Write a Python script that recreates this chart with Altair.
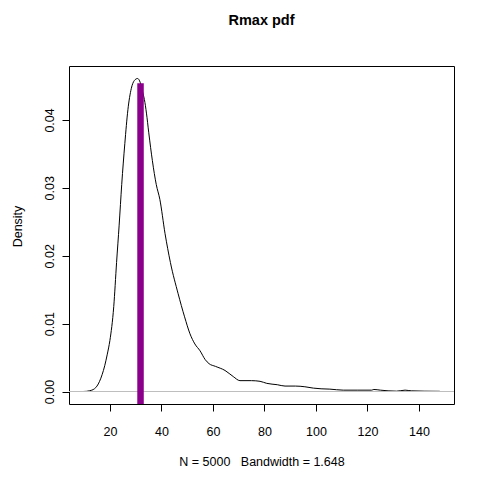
import altair as alt
import pandas as pd

# Density estimate of Rmax
rmax_x = [9.6, 11.0, 12.0, 13.0, 14.0, 15.0, 16.0, 17.0, 18.0, 19.0, 20.0, 21.5, 22.6, 23.6,
          24.6, 25.8, 27.0, 28.3, 29.5, 30.75, 31.8, 32.8, 33.4, 34.2, 35.1, 36.5, 38.0,
          39.4, 41.4, 43.5, 46.5, 49.0, 51.1, 53.0, 55.0, 57.0, 58.5, 61.0, 64.7, 67.9,
          70.5, 75.0, 78.3, 80.9, 85.0, 88.0, 92.0, 95.7, 99.0, 102.0, 105.4, 110.6,
          116.0, 121.6, 122.5, 125.0, 128.0, 131.3, 134.6, 137.0, 142.0, 148.1]
density = [0.0, 0.00003, 0.0001, 0.0002, 0.0004, 0.0008, 0.0015, 0.0025, 0.0038, 0.0055,
           0.0075, 0.0125, 0.0190, 0.0245, 0.0305, 0.0365, 0.0415, 0.0446, 0.0458, 0.0461,
           0.0455, 0.0440, 0.0430, 0.0410, 0.0381, 0.0340, 0.0305, 0.0283, 0.0233, 0.0190,
           0.0144, 0.0110, 0.0085, 0.0070, 0.0060, 0.0047, 0.0041, 0.0037, 0.0031, 0.0022,
           0.0016, 0.0016, 0.0015, 0.0012, 0.0010, 0.0008, 0.0008, 0.0007, 0.0005, 0.0004,
           0.00035, 0.0002, 0.0002, 0.0002, 0.0003, 0.0002, 0.0001, 0.00005, 0.0002, 0.0001,
           0.00005, 0.00003]

marker_x = [31.9]
marker_top = [0.0454]

x_ticks = [20, 40, 60, 80, 100, 120, 140]
y_ticks = [0.0, 0.01, 0.02, 0.03, 0.04]
x_domain = [4.13, 153.6]
y_domain = [-0.00184, 0.04794]

W, H = 385, 338
FONT = "Liberation Sans"
FS = 12.5

df = pd.DataFrame({"x": rmax_x, "d": density})
mk = pd.DataFrame({"x": marker_x, "top": marker_top, "bottom": [y_domain[0]]})
zero = pd.DataFrame({"y": [0.0]})

xs = alt.Scale(domain=x_domain, nice=False, zero=False)
ys = alt.Scale(domain=y_domain, nice=False, zero=False)

xaxis = alt.Axis(values=x_ticks, grid=False, domain=False, tickColor="black", tickSize=7,
                 tickWidth=1, labelFont=FONT, labelFontSize=FS, labelColor="black",
                 labelBaseline="alphabetic", labelPadding=24, labelFlush=False,
                 labelOverlap=False,
                 title="N = 5000\u00a0\u00a0\u00a0Bandwidth = 1.648", titleFont=FONT,
                 titleFontSize=FS, titleFontWeight="normal", titleColor="black",
                 titleBaseline="alphabetic", titleX=W / 2, titleY=61, titleAlign="center")
yaxis = alt.Axis(values=y_ticks, format=".2f", grid=False, domain=False, tickColor="black",
                 tickSize=7, tickWidth=1, labelFont=FONT, labelFontSize=FS,
                 labelColor="black", labelAngle=270, labelAlign="center",
                 labelBaseline="alphabetic", labelPadding=8.7, labelFlush=False,
                 labelOverlap=False,
                 title="Density", titleFont=FONT, titleFontSize=FS,
                 titleFontWeight="normal", titleColor="black", titleAngle=270,
                 titleBaseline="alphabetic", titleAlign="center", titleX=-47.3, titleY=160)

curve = alt.Chart(df).mark_line(color="black", strokeWidth=1, interpolate="monotone").encode(
    x=alt.X("x:Q", scale=xs, axis=xaxis),
    y=alt.Y("d:Q", scale=ys, axis=yaxis),
)

zline = alt.Chart(zero).mark_rule(color="#BEBEBE", strokeWidth=1).encode(
    y=alt.Y("y:Q", scale=ys),
    x=alt.value(0), x2=alt.value(W),
)

marker = alt.Chart(mk).mark_rule(color="#8B008B", strokeWidth=6.5, clip=True).encode(
    x=alt.X("x:Q", scale=xs),
    y=alt.Y("bottom:Q", scale=ys),
    y2="top:Q",
)

chart = alt.layer(curve, zline, marker).properties(
    width=W, height=H,
    title=alt.TitleParams("Rmax pdf", font=FONT, fontSize=14.5, fontWeight="bold",
                          color="black", anchor="middle", frame="group",
                          baseline="alphabetic", offset=26.7),
    autosize=alt.AutoSizeParams(type="none"),
    padding={"left": 61, "top": 58, "right": 10, "bottom": 65},
).configure(background="white").configure_view(stroke="black", strokeWidth=1)

chart.save("out.html", embed_options={"renderer": "svg", "actions": False})
